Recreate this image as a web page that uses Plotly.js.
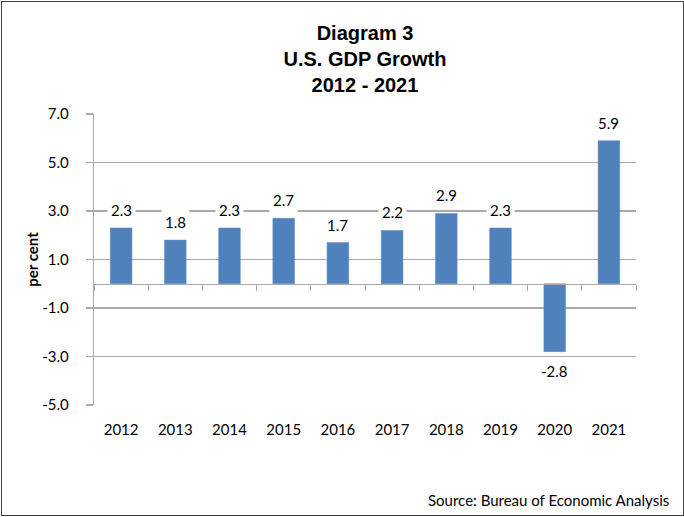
<!DOCTYPE html>
<html>
<head>
<meta charset="utf-8">
<script src="https://cdn.plot.ly/plotly-3.0.1.min.js"></script>
<style>
  html, body { margin: 0; padding: 0; background: #fff; }
  #frame { position: absolute; left: 1px; top: 1px; width: 683px; height: 515px;
           box-sizing: border-box; border: 1.5px solid #404040; pointer-events: none; z-index: 10; }
  #chart { position: absolute; left: 0; top: 0; width: 684px; height: 517px; }
</style>
</head>
<body>
<div id="chart"></div>
<div id="frame"></div>
<script>
const years = ['2012','2013','2014','2015','2016','2017','2018','2019','2020','2021'];
const growth = [2.3, 1.8, 2.3, 2.7, 1.7, 2.2, 2.9, 2.3, -2.8, 5.9];
const yTicks = [-5, -3, -1, 1, 3, 5, 7];
const yRange = [-5, 7];

const gridColor = '#a9a9a9';
const labelFont = {family: 'Lato, "Open Sans", sans-serif', size: 15, color: '#000'};
const xRange = [-0.5, years.length - 0.5];

const bars = {
  type: 'bar', x: years, y: growth, xaxis: 'x', yaxis: 'y',
  marker: {color: '#4F81BD', line: {color: '#5b8cc6', width: 0.5}},
  width: 0.4, hoverinfo: 'x+y', showlegend: false
};

// Invisible trace on second x axis (axis line at y=0 with boundary ticks)
const zeroAxisTrace = {
  type: 'scatter', x: years, y: growth, xaxis: 'x2', yaxis: 'y',
  mode: 'markers', marker: {opacity: 0}, showlegend: false, hoverinfo: 'skip'
};

const yDomain = [0, 1];
const zeroPos = yDomain[0] + (0 - yRange[0]) / (yRange[1] - yRange[0]) * (yDomain[1] - yDomain[0]);

// category index positions (annotation x on a category axis uses serial numbers)
const annotations = years.map((yr, i) => ({
  x: i, y: growth[i], xref: 'x', yref: 'y',
  text: growth[i].toFixed(1), showarrow: false,
  yanchor: growth[i] >= 0 ? 'bottom' : 'top',
  yshift: growth[i] >= 0 ? 5 : -6,
  bgcolor: '#ffffff', borderpad: 3,
  font: labelFont
}));

annotations.push({
  text: 'Source: Bureau of Economic Analysis', xref: 'paper', yref: 'paper',
  x: 1.064, y: -0.287, xanchor: 'right', yanchor: 'top', showarrow: false,
  font: labelFont
});

const layout = {
  width: 684, height: 517,
  margin: {l: 94, r: 48, t: 114, b: 112},
  paper_bgcolor: '#fff', plot_bgcolor: '#fff',
  title: {
    text: 'Diagram 3<br>U.S. GDP Growth<br>2012 - 2021',
    font: {family: '"Liberation Sans", Arial, sans-serif', size: 20, weight: 700, color: '#000'},
    x: 0.5, xref: 'paper', xanchor: 'center',
    y: 0.922, yref: 'container', yanchor: 'top'
  },
  xaxis: {
    type: 'category', range: xRange, showgrid: false, showline: false, zeroline: false,
    ticks: '', ticklabelstandoff: 14, tickfont: labelFont, fixedrange: true
  },
  xaxis2: {
    type: 'category', range: xRange, overlaying: 'x', anchor: 'free', position: zeroPos,
    side: 'bottom', showline: true, linecolor: gridColor, linewidth: 1.3,
    ticks: 'outside', tickson: 'boundaries', ticklen: 6, tickcolor: gridColor, tickwidth: 1,
    showticklabels: false, showgrid: false, zeroline: false
  },
  yaxis: {
    range: yRange, tickvals: yTicks, ticktext: yTicks.map(v => v.toFixed(1)),
    showgrid: true, gridcolor: gridColor, gridwidth: 1.3,
    showline: true, linecolor: gridColor, linewidth: 1.3,
    ticks: 'outside', ticklen: 7, tickcolor: gridColor, tickwidth: 1.3,
    ticklabelstandoff: 14, zeroline: false, tickfont: labelFont,
    title: {text: 'per cent', standoff: 0,
            font: {family: 'Lato, "Open Sans", sans-serif', size: 15, weight: 700, color: '#000'}}
  },
  annotations: annotations,
  bargap: 0.6
};

Plotly.newPlot('chart', [bars, zeroAxisTrace], layout, {displayModeBar: false, staticPlot: true});
</script>
</body>
</html>
